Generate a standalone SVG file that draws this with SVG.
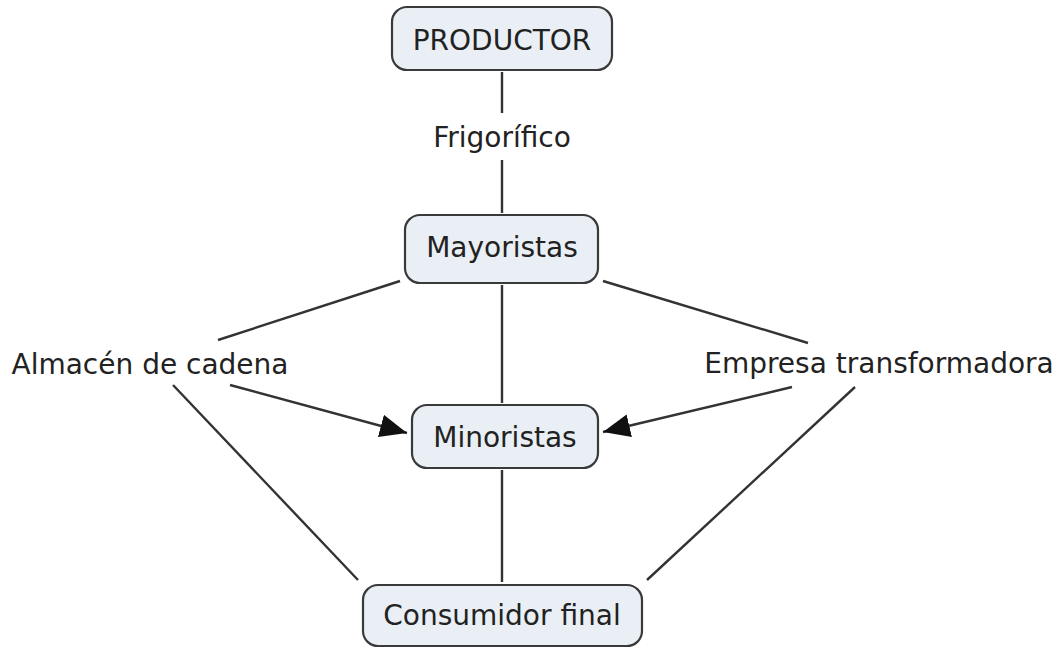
<svg xmlns="http://www.w3.org/2000/svg" width="1062" height="649" viewBox="0 0 1062 649">
<style>
.box{fill:#e9eff4;stroke:#3a3a3a;stroke-width:2.2}
.t{font-family:"DejaVu Sans",Verdana,sans-serif;font-size:28px;fill:#222;text-anchor:middle}
.c line{stroke:#333;stroke-width:2.4}
</style>
<defs>
<marker id="arr" markerUnits="userSpaceOnUse" markerWidth="30" markerHeight="26" refX="27" refY="11.5" orient="auto">
<path d="M0,0 L27,11.5 L0,23 Z" fill="#111"/>
</marker>
</defs>
<rect width="1062" height="649" fill="#fff"/>
<g class="c" id="connectors">
<line x1="502" y1="72" x2="502" y2="113"/>
<line x1="502" y1="160" x2="502" y2="213"/>
<line x1="400" y1="281" x2="218" y2="340"/>
<line x1="603" y1="281" x2="808" y2="343"/>
<line x1="502" y1="285" x2="502" y2="403"/>
<line x1="230" y1="385" x2="407" y2="433" marker-end="url(#arr)"/>
<line x1="792" y1="387" x2="603" y2="432" marker-end="url(#arr)"/>
<line x1="173" y1="385" x2="358" y2="580"/>
<line x1="855" y1="387" x2="647" y2="580"/>
<line x1="502" y1="470" x2="502" y2="582"/>
</g>
<g id="productor"><rect class="box" x="392" y="7" width="220" height="63" rx="15"/><text class="t" x="502" y="50">PRODUCTOR</text></g>
<g id="frigorifico"><text class="t" x="502" y="147">Frigorífico</text></g>
<g id="mayoristas"><rect class="box" x="405" y="215" width="193" height="68" rx="15"/><text class="t" x="502" y="257">Mayoristas</text></g>
<g id="almacen"><text class="t" x="150" y="374">Almacén de cadena</text></g>
<g id="empresa"><text class="t" x="879" y="373">Empresa transformadora</text></g>
<g id="minoristas"><rect class="box" x="412" y="405" width="186" height="63" rx="15"/><text class="t" x="505" y="447">Minoristas</text></g>
<g id="consumidor"><rect class="box" x="363" y="585" width="279" height="61" rx="15"/><text class="t" x="502" y="625">Consumidor final</text></g>
</svg>
